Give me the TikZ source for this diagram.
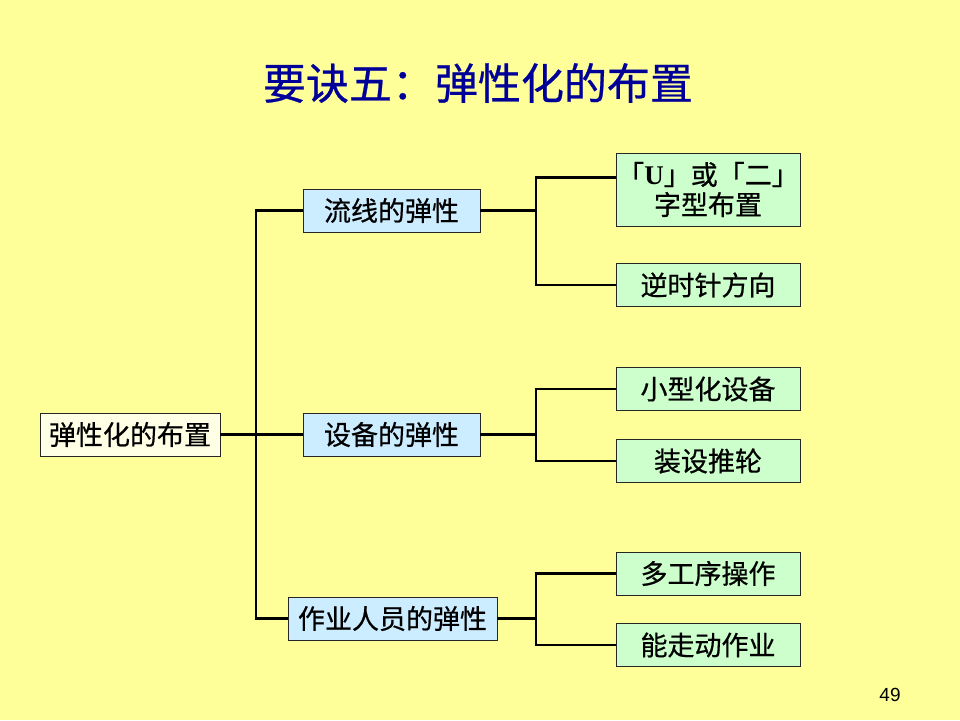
\documentclass[tikz,border=0pt]{standalone}
\usepackage{fontspec}
\setmainfont{Liberation Serif}
\newfontfamily\cjk[FakeBold=0.6]{Noto Sans CJK SC}
\newfontfamily\pagefont{Liberation Sans}
\usepackage{xcolor}
\definecolor{slidebg}{HTML}{FFFF99}
\definecolor{titleblue}{HTML}{000099}
\definecolor{rootfill}{HTML}{FFFFE6}
\definecolor{midfill}{HTML}{CCECFF}
\definecolor{leaffill}{HTML}{CCFFCC}
\usepackage{tikz}
\usetikzlibrary{positioning}

\begin{document}
\begin{tikzpicture}[x=1pt,y=-1pt,
    box/.style={draw=black!85,line width=0.8pt,inner sep=0pt,minimum height=43pt,
                align=center,font=\cjk\fontsize{27}{30}\selectfont},
    rootbox/.style={box,fill=rootfill,minimum width=180pt},
    midbox/.style={box,fill=midfill,minimum width=177pt},
    leafbox/.style={box,fill=leaffill,minimum width=184pt},
    link/.style={black,line width=2.6pt}]
\fill[slidebg] (0,0) rectangle (960,720);

% title and page number
\node[titleblue,font=\cjk\fontsize{43}{48}\selectfont] (title) at (478,83) {要诀五：弹性化的布置};
\node[font=\pagefont\fontsize{19}{22}\selectfont] (page) at (890,695) {49};

% root and the three groups
\node[rootbox] (root) at (130,434.5) {弹性化的布置};
\node[midbox] (line) at (391.5,210.5) {流线的弹性};
\node[midbox] (equip) at (391.5,434.5) {设备的弹性};
\node[midbox,minimum width=209pt] (staff) at (392.5,618.5) {作业人员的弹性};

% leaves
\node[leafbox,minimum height=73pt] (ushape) at (708,189.5) {「{\bfseries\rmfamily U}」或「二」\\字型布置};
\node[leafbox] (ccw) at (708,285) {逆时针方向};
\node[leafbox] (small) at (708,389) {小型化设备};
\node[leafbox] (wheel) at (708,461) {装设推轮};
\node[leafbox] (multi) at (708,573.5) {多工序操作};
\node[leafbox] (walk) at (708,645) {能走动作业};

% connectors
\coordinate (trunk) at (256,0);
\coordinate (fork) at (536,0);
\draw[link] (root.east) -- (equip.west);
\draw[link] (line.west) -- (line.west -| trunk) -- (staff.west -| trunk) -- (staff.west);

\draw[link] (line.east) -- (line.east -| fork);
\draw[link] ([yshift=12pt]ushape.west) -| (ccw.west -| fork) -- (ccw.west);
\draw[link] (equip.east) -- (equip.east -| fork);
\draw[link] (small.west) -| (wheel.west -| fork) -- (wheel.west);
\draw[link] (staff.east) -- (staff.east -| fork);
\draw[link] (multi.west) -| (walk.west -| fork) -- (walk.west);
\end{tikzpicture}
\end{document}
